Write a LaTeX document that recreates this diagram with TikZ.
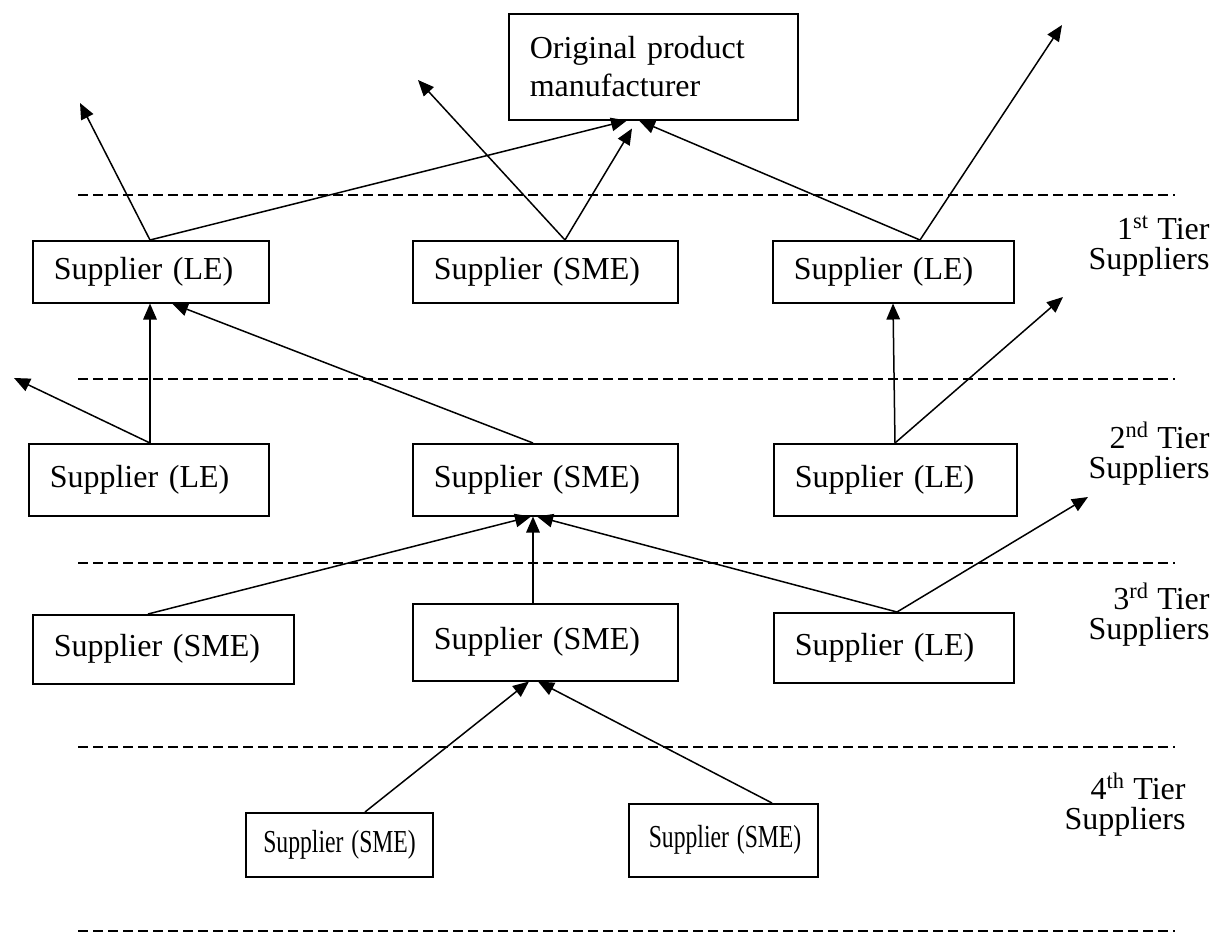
\documentclass[tikz,border=0pt]{standalone}
\usepackage{fontspec}
\setmainfont{Liberation Serif}
\usetikzlibrary{positioning,calc,arrows.meta}

\newcommand{\narrow}[1]{\scalebox{0.74}[1]{#1}}

\begin{document}
\begin{tikzpicture}%
	[x=0.4pt, y=-0.4pt,
	firm/.style 2 args={draw, rectangle, line width=0.6pt, anchor=north west, inner ysep=0pt, inner xsep=8.4pt,
		text width=#1*0.4pt-16.8pt, minimum height=#2*0.4pt, align=left, font=\fontsize{12.8}{15.2}\selectfont},
	tier/.style={anchor=east, inner sep=0pt, align=right, font=\fontsize{12.8}{12}\selectfont},
	link/.style={-{Triangle[length=6.4pt,width=5.4pt]}, line width=0.6pt},
	sep/.style={line width=0.6pt, dash pattern=on 4pt off 2pt}]
	\useasboundingbox (0,0) rectangle (1221,933);
	
	% tier separators
	\foreach \y in {195,379,563,747,931}
		\draw[sep] (78,\y) -- (1175,\y);
	
	\node[firm={289}{106}] (opm) at (508,13) {Original product\\manufacturer};
	
	\node[firm={236}{62}] (le1a) at (32,240) {Supplier (LE)};
	\node[firm={265}{62}] (sme1) at (412,240) {Supplier (SME)};
	\node[firm={241}{62}] (le1b) at (772,240) {Supplier (LE)};
	
	\node[firm={240}{72}] (le2a) at (28,443) {Supplier (LE)};
	\node[firm={265}{72}] (sme2) at (412,443) {Supplier (SME)};
	\node[firm={243}{72}] (le2b) at (773,443) {Supplier (LE)};
	
	\node[firm={261}{69}] (sme3a) at (32,614) {Supplier (SME)};
	\node[firm={265}{77}] (sme3b) at (412,603) {Supplier (SME)};
	\node[firm={240}{70}] (le3) at (773,612) {Supplier (LE)};
	
	\node[firm={187}{64}, inner xsep=7pt, text width=187*0.4pt-14pt] (sme4a) at (245,812) {\narrow{Supplier (SME)}};
	\node[firm={189}{73}, inner xsep=8pt, text width=189*0.4pt-16pt] (sme4b) at (628,803) {\narrow{Supplier (SME)}};
	
	\node[tier] (t1) at (1210,246) {1\textsuperscript{st} Tier\\Suppliers};
	\node[tier] (t2) at (1210,454) {2\textsuperscript{nd} Tier\\Suppliers};
	\node[tier] (t3) at (1210,615) {3\textsuperscript{rd} Tier\\Suppliers};
	\node[tier] (t4) at (1186,805) {4\textsuperscript{th} Tier\\Suppliers};
	
	% free arrow ends
	\coordinate (f1) at (80,103);
	\coordinate (f2) at (418,80);
	\coordinate (f3) at (1062,25);
	\coordinate (f4) at (14,378);
	\coordinate (f5) at (1063,297);
	\coordinate (f6) at (1088,497);
	
	% 1st tier
	\draw[link] ($(le1a.north west)+(118,0)$) -- ($(opm.south west)+(119,0)$);
	\draw[link] ($(le1a.north west)+(118,0)$) -- (f1);
	\draw[link] ($(sme1.north west)+(153,0)$) -- (f2);
	\draw[link] ($(sme1.north west)+(153,0)$) -- ($(opm.south west)+(124,8)$);
	\draw[link] ($(le1b.north west)+(148,0)$) -- ($(opm.south west)+(131,0)$);
	\draw[link] ($(le1b.north west)+(148,0)$) -- (f3);
	
	% 2nd tier
	\draw[link] ($(le2a.north west)+(122,0)$) -- ($(le1a.south west)+(118,0)$);
	\draw[link] ($(le2a.north west)+(122,0)$) -- (f4);
	\draw[link] ($(sme2.north west)+(121,0)$) -- ($(le1a.south west)+(140,0)$);
	\draw[link] ($(le2b.north west)+(122,0)$) -- ($(le1b.south west)+(121,0)$);
	\draw[link] ($(le2b.north west)+(122,0)$) -- (f5);
	
	% 3rd tier
	\draw[link] ($(sme3a.north west)+(116,0)$) -- ($(sme2.south west)+(119,0)$);
	\draw[link] ($(sme3b.north west)+(121,0)$) -- ($(sme2.south west)+(121,0)$);
	\draw[link] ($(le3.north west)+(124,0)$) -- ($(sme2.south west)+(125,0)$);
	\draw[link] ($(le3.north west)+(124,0)$) -- (f6);
	
	% 4th tier
	\draw[link] ($(sme4a.north west)+(120,0)$) -- ($(sme3b.south west)+(117,0)$);
	\draw[link] ($(sme4b.north west)+(144,0)$) -- ($(sme3b.south west)+(126,0)$);
	
\end{tikzpicture}
\end{document}
